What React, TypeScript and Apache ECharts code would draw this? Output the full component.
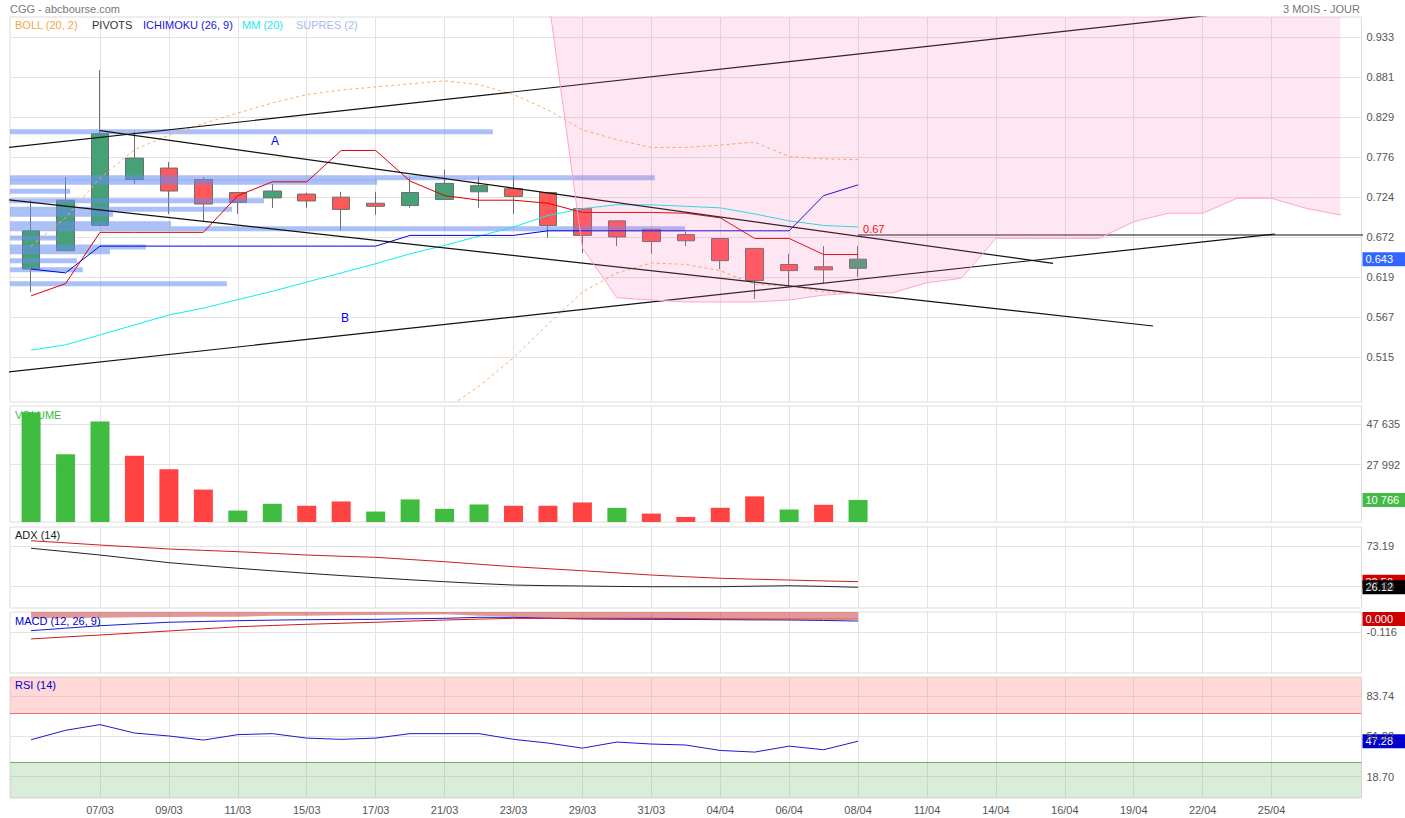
import React, { useEffect, useRef } from "react";
import * as echarts from "echarts";

const FONT = "'Liberation Sans', Arial, sans-serif";
const X_MIN = -0.612;
const X_MAX = 38.61;

const tickIndex = [2, 4, 6, 8, 10, 12, 14, 16, 18, 20, 22, 24, 26, 28, 30, 32, 34, 36];
const tickDates = ["07/03", "09/03", "11/03", "15/03", "17/03", "21/03", "23/03", "29/03", "31/03", "04/04", "06/04", "08/04", "11/04", "14/04", "16/04", "19/04", "22/04", "25/04"];

// Price candles
const opens = [0.630, 0.654, 0.687, 0.747, 0.762, 0.747, 0.730, 0.723, 0.728, 0.724, 0.716, 0.713, 0.721, 0.731, 0.735, 0.730, 0.709, 0.693, 0.682, 0.675, 0.670, 0.657, 0.636, 0.633, 0.631];
const closes = [0.680, 0.720, 0.807, 0.775, 0.732, 0.715, 0.717, 0.732, 0.719, 0.708, 0.712, 0.730, 0.742, 0.739, 0.725, 0.687, 0.674, 0.672, 0.666, 0.667, 0.641, 0.615, 0.628, 0.629, 0.643];
const lows = [0.600, 0.653, 0.686, 0.741, 0.702, 0.692, 0.702, 0.710, 0.710, 0.680, 0.701, 0.710, 0.720, 0.710, 0.702, 0.671, 0.651, 0.660, 0.650, 0.660, 0.630, 0.591, 0.608, 0.611, 0.620];
const highs = [0.720, 0.750, 0.890, 0.810, 0.770, 0.750, 0.731, 0.741, 0.730, 0.731, 0.731, 0.750, 0.760, 0.751, 0.751, 0.731, 0.710, 0.693, 0.683, 0.679, 0.670, 0.657, 0.650, 0.660, 0.660];

// Indicators on price
const bollUpper = [0.660, 0.697, 0.749, 0.786, 0.805, 0.820, 0.834, 0.847, 0.858, 0.864, 0.868, 0.872, 0.876, 0.871, 0.858, 0.838, 0.812, 0.799, 0.789, 0.789, 0.792, 0.796, 0.777, 0.774, 0.773];
const bollLower = [0.388, 0.365, 0.339, 0.328, 0.335, 0.338, 0.345, 0.356, 0.369, 0.386, 0.405, 0.428, 0.446, 0.477, 0.514, 0.558, 0.600, 0.625, 0.638, 0.636, 0.628, 0.610, 0.608, 0.600, 0.597];
const mm20 = [0.524, 0.531, 0.544, 0.557, 0.570, 0.579, 0.590, 0.601, 0.613, 0.625, 0.637, 0.650, 0.661, 0.673, 0.685, 0.700, 0.709, 0.714, 0.714, 0.712, 0.710, 0.702, 0.693, 0.687, 0.685];
const ichiTenkan = [0.595, 0.611, 0.678, 0.678, 0.678, 0.678, 0.726, 0.744, 0.744, 0.785, 0.785, 0.745, 0.726, 0.720, 0.720, 0.716, 0.704, 0.704, 0.704, 0.703, 0.697, 0.670, 0.670, 0.649, 0.649];
const ichiKijun = [0.630, 0.625, 0.660, 0.660, 0.660, 0.660, 0.660, 0.660, 0.660, 0.660, 0.660, 0.674, 0.674, 0.674, 0.674, 0.680, 0.680, 0.680, 0.680, 0.680, 0.680, 0.680, 0.680, 0.726, 0.740];
// Ichimoku cloud: lower boundary (upper boundary lies above the visible range)
const cloudStart = 15;
const cloudLow = [0.988, 0.6575, 0.5926, 0.5896, 0.587, 0.587, 0.587, 0.5896, 0.596, 0.599, 0.599, 0.6122, 0.618, 0.6702, 0.6702, 0.6702, 0.6702, 0.6919, 0.7029, 0.7029, 0.7225, 0.7225, 0.7094, 0.7007];

// Support / resistance bars
const supresLevels = [0.8095, 0.7494, 0.7434, 0.7316, 0.7193, 0.7081, 0.7016, 0.6893, 0.6827, 0.6706, 0.6588, 0.6527, 0.6409, 0.6292, 0.6109];
const supresEnds = [13.4, 18.1, 10.04, 1.13, 6.76, 5.83, 2.38, 4.06, 18.98, 0.75, 3.33, 2.29, 1.33, 1.5, 5.68];

// Trend lines (drawn)
const trendFromX = [-1, 2, -1, -1];
const trendFromY = [0.7872, 0.8109, 0.7222, 0.4939];
const trendToX = [36, 29.66, 32.56, 36.1];
const trendToY = [0.9705, 0.6375, 0.5556, 0.6758];
const pivotLevel = 0.6745;
const pivotFrom = 24;

// Volume
const volumes = [53590, 33150, 49130, 32310, 25730, 15830, 5590, 8910, 7920, 10040, 5100, 11030, 6430, 8560, 7920, 7920, 9550, 6930, 4110, 2470, 6930, 12520, 6090, 8410, 10766];
const volumeUp = [1, 1, 1, 0, 0, 0, 1, 1, 0, 0, 1, 1, 1, 1, 0, 0, 0, 1, 0, 0, 0, 0, 1, 0, 1];

// ADX
const adxRed = [79.2, 76.8, 74.3, 72.0, 69.8, 68.2, 66.7, 64.8, 62.9, 61.5, 60.3, 57.8, 55.3, 52.4, 49.6, 47.3, 45.0, 42.6, 40.1, 38.2, 36.4, 35.3, 34.4, 33.4, 32.5];
const adxBlack = [70.6, 66.8, 62.9, 58.5, 54.2, 50.9, 47.8, 44.9, 42.1, 39.5, 37.1, 34.7, 32.5, 30.4, 28.7, 28.0, 27.6, 27.1, 26.8, 26.8, 26.8, 27.4, 27.9, 27.2, 26.12];

// MACD
const macdLine = [-0.104, -0.082, -0.060, -0.044, -0.029, -0.022, -0.015, -0.010, -0.006, -0.004, -0.003, 0.002, 0.006, 0.015, 0.015, 0.008, 0.000, -0.002, -0.003, -0.004, -0.006, -0.008, -0.009, -0.013, -0.018];
const macdSignal = [-0.178, -0.160, -0.143, -0.125, -0.107, -0.088, -0.069, -0.058, -0.047, -0.038, -0.029, -0.019, -0.009, -0.001, 0.006, 0.006, 0.006, 0.006, 0.006, 0.003, 0.000, 0.000, 0.000, 0.000, 0.000];
const macdHistLow = [0.006, 0.009, 0.012, 0.015, 0.018, 0.020, 0.021, 0.028, 0.030, 0.033, 0.036, 0.039, 0.042, 0.030, 0.021, 0.013, 0.006, 0.004, 0.002, 0.001, 0.000, 0.002, 0.004, 0.005, 0.006];

// RSI
const rsi = [48.5, 56.1, 60.7, 53.9, 51.5, 48.2, 52.6, 53.4, 49.8, 48.8, 49.8, 53.4, 53.4, 53.4, 48.8, 45.8, 41.7, 46.6, 45.0, 44.2, 39.8, 38.5, 43.3, 40.4, 47.28];

// Axis ticks
const mainTicks = [0.5147, 0.5670, 0.6194, 0.6717, 0.7240, 0.7763, 0.8286, 0.8810, 0.9333];
const volTicks = [27992, 47635];
const adxTicks = [27.6, 73.19];
const macdTicks = [-0.116];
const rsiTicks = [18.70, 51.22, 83.74];

const GRID_LEFT = 10;
const GRID_W = 1351.5;
const panels = [
  { top: 17, height: 385, min: 0.4563, max: 0.9594, ticks: mainTicks, fmt: (v: number) => v.toFixed(3) },
  { top: 406, height: 116, min: 0, max: 56670, ticks: volTicks, fmt: (v: number) => String(Math.round(v)).replace(/\B(?=(\d{3})+(?!\d))/g, " ") },
  { top: 527, height: 81, min: 2.53, max: 94.84, ticks: adxTicks, fmt: (v: number) => v.toFixed(2) },
  { top: 612, height: 61, min: -0.4818, max: 0.0625, ticks: macdTicks, fmt: (v: number) => v.toFixed(3) },
  { top: 677, height: 121, min: 1.38, max: 99.19, ticks: rsiTicks, fmt: (v: number) => v.toFixed(2) },
];

const idxPairs = (arr: number[], start = 0) => arr.map((v, i) => [start + i, v]);

export default function App() {
  const ref = useRef<HTMLDivElement>(null);
  useEffect(() => {
    const chart = echarts.init(ref.current!, null, { renderer: "svg" });
    const labelColor = "#555";
    const grid = panels.map((p) => ({
      left: GRID_LEFT, width: GRID_W, top: p.top, height: p.height,
      show: true, borderColor: "#dcdcdc", borderWidth: 1, backgroundColor: "transparent",
    }));
    const xAxis = panels.map((p, i) => ({
      type: "value", gridIndex: i, min: X_MIN, max: X_MAX,
      axisLine: { show: false },
      axisTick: { show: false, customValues: tickIndex },
      splitLine: { show: true, lineStyle: { color: "#e3e3e3", width: 1 } },
      axisLabel: i === 4
        ? { show: true, customValues: tickIndex, color: labelColor, fontSize: 11, fontFamily: FONT, margin: 6,
            formatter: (v: number) => tickDates[tickIndex.indexOf(Math.round(v))] || "" }
        : { show: false },
    }));
    const yAxis = panels.map((p, i) => ({
      type: "value", gridIndex: i, position: "right", min: p.min, max: p.max,
      axisLine: { show: false },
      axisTick: { show: false, customValues: p.ticks },
      splitLine: { show: true, lineStyle: { color: "#e3e3e3", width: 1 } },
      axisLabel: { show: true, customValues: p.ticks, color: labelColor, fontSize: 11, fontFamily: FONT, margin: 5, formatter: p.fmt },
    }));

    const lineS = (name: string, gi: number, data: any[], color: string, extra: any = {}) => ({
      name, type: "line", xAxisIndex: gi, yAxisIndex: gi, data, symbol: "none", silent: true,
      lineStyle: { color, width: 1 }, z: 3, ...extra,
    });

    const series: any[] = [];
    series.push({
      type: "candlestick", xAxisIndex: 0, yAxisIndex: 0, barWidth: 18, z: 2,
      encode: { x: 0, y: [1, 2, 3, 4] },
      data: opens.map((o, i) => [i, o, closes[i], lows[i], highs[i]]),
      itemStyle: { color: "#46a276", color0: "#ff5858", borderColor: "#6e6e6e", borderColor0: "#6e6e6e", borderWidth: 1 },
    });
    series.push({
      type: "custom", xAxisIndex: 0, yAxisIndex: 0, z: 3, silent: true,
      encode: { x: 0, y: 1 },
      data: supresLevels.map((l, i) => [supresEnds[i], l]),
      renderItem: (params: any, api: any) => {
        const end = api.value(0);
        const lvl = api.value(1);
        const a = api.coord([X_MIN, lvl]);
        const b = api.coord([end, lvl]);
        return { type: "rect", shape: { x: a[0], y: a[1] - 2.5, width: b[0] - a[0], height: 5 }, style: { fill: "rgba(100,140,240,0.55)" } };
      },
    });
    series.push(lineS("bollU", 0, idxPairs(bollUpper), "#f8b060", { lineStyle: { color: "#f8b060", width: 1, type: [3, 3] } }));
    series.push(lineS("bollL", 0, idxPairs(bollLower), "#f8b060", { lineStyle: { color: "#f8b060", width: 1, type: [3, 3] } }));
    series.push(lineS("mm20", 0, idxPairs(mm20), "#10ecf0"));
    series.push(lineS("tenkan", 0, idxPairs(ichiTenkan), "#dd0000"));
    series.push(lineS("kijun", 0, idxPairs(ichiKijun), "#0000dd"));
    trendFromX.forEach((fx, i) => {
      series.push(lineS("trend" + i, 0, [[fx, trendFromY[i]], [trendToX[i], trendToY[i]]], "#111", { z: 4, lineStyle: { color: "#111", width: 1.2 } }));
    });
    series.push(lineS("pivot", 0, [[pivotFrom, pivotLevel], [X_MAX + 1, pivotLevel]], "#111", { z: 4, lineStyle: { color: "#111", width: 1.2 } }));
    series.push(lineS("cloud", 0, idxPairs(cloudLow, cloudStart), "#ffa4cc", {
      z: 6, areaStyle: { color: "rgba(250,105,175,0.24)", origin: "end" },
    }));

    // volume
    series.push({
      type: "bar", xAxisIndex: 1, yAxisIndex: 1, barWidth: 19, silent: true,
      data: volumes.map((v, i) => ({ value: [i, v], itemStyle: { color: volumeUp[i] ? "#40bd40" : "#ff4242" } })),
    });

    // ADX
    series.push(lineS("adxR", 2, idxPairs(adxRed), "#cc1f1f"));
    series.push(lineS("adxB", 2, idxPairs(adxBlack), "#222"));

    // MACD
    series.push(lineS("hist", 3, idxPairs(macdHistLow), "#d05050", {
      z: 2, lineStyle: { width: 0, opacity: 0 }, areaStyle: { color: "rgba(195,35,35,0.68)", origin: "end" },
    }));
    series.push(lineS("macd", 3, idxPairs(macdLine), "#1a1acc"));
    series.push(lineS("signal", 3, idxPairs(macdSignal), "#cc1a1a"));

    // RSI
    series.push(lineS("rsi", 4, idxPairs(rsi), "#1a1acc", {
      markArea: {
        silent: true,
        data: [
          [{ yAxis: 70, itemStyle: { color: "rgba(255,150,150,0.37)" } }, { yAxis: panels[4].max }],
          [{ yAxis: panels[4].min, itemStyle: { color: "rgba(120,190,120,0.28)" } }, { yAxis: 30 }],
        ],
      },
      markLine: {
        silent: true, symbol: "none", label: { show: false },
        data: [
          { yAxis: 70, lineStyle: { color: "#f07070", width: 1, type: "solid" } },
          { yAxis: 30, lineStyle: { color: "#6cb26c", width: 1, type: "solid" } },
        ],
      },
    }));

    chart.setOption({
      animation: false,
      backgroundColor: "#ffffff",
      textStyle: { fontFamily: FONT },
      grid, xAxis, yAxis, series,
    });

    const px = (gi: number, x: number, y: number) => chart.convertToPixel({ xAxisIndex: gi, yAxisIndex: gi } as any, [x, y]) as number[];
    const last = opens.length - 1;
    const badge = (gi: number, val: number, text: string, color: string) => {
      const y = px(gi, last, val)[1];
      return {
        type: "group", x: GRID_LEFT + GRID_W + 1, y: y - 7, z: 100,
        children: [
          { type: "rect", shape: { x: 0, y: 0, width: 43, height: 14 }, style: { fill: color } },
          { type: "text", x: 3, y: 7, style: { text, fill: "#fff", fontSize: 11, fontFamily: FONT, verticalAlign: "middle" } },
        ],
      };
    };
    const txt = (x: number, y: number, text: string, fill: string, extra: any = {}) => ({
      type: "text", x, y, z: 100, style: { text, fill, fontSize: 11, fontFamily: FONT, verticalAlign: "middle", ...extra },
    });
    const pivotPt = px(0, pivotFrom, pivotLevel);
    const aPt = px(0, 7.08, 0.7974);
    const bPt = px(0, 9.11, 0.5660);
    const graphic = [
      txt(10, 9, "CGG - abcbourse.com", "#777"),
      txt(1360, 9, "3 MOIS - JOUR", "#777", { align: "right" }),
      txt(15, 25, "BOLL (20, 2)", "#f5a545"),
      txt(92, 25, "PIVOTS", "#333"),
      txt(143, 25, "ICHIMOKU (26, 9)", "#1515e0"),
      txt(242, 25, "MM (20)", "#1ee6f0"),
      txt(296, 25, "SUPRES (2)", "#a9b9f0"),
      txt(pivotPt[0] + 5, pivotPt[1] - 6, "0.67", "#ee1111"),
      txt(aPt[0], aPt[1], "A", "#0000ff", { align: "center", fontSize: 12 }),
      txt(bPt[0], bPt[1], "B", "#0000ff", { align: "center", fontSize: 12 }),
      txt(15, 415, "VOLUME", "#3cba3c"),
      txt(15, 535, "ADX (14)", "#222"),
      txt(15, 621, "MACD (12, 26, 9)", "#0000cc"),
      txt(15, 685, "RSI (14)", "#0000cc"),
      badge(0, closes[last], closes[last].toFixed(3), "#3366ff"),
      badge(1, volumes[last], panels[1].fmt(volumes[last]), "#44bb44"),
      badge(2, adxRed[last], adxRed[last].toFixed(2), "#cc0000"),
      badge(2, adxBlack[last], adxBlack[last].toFixed(2), "#000000"),
      badge(3, macdSignal[last], macdSignal[last].toFixed(3), "#cc0000"),
      badge(4, rsi[last], rsi[last].toFixed(2), "#0000cc"),
    ];
    chart.setOption({ graphic });

    return () => chart.dispose();
  }, []);
  return <div ref={ref} style={{ position: "fixed", left: 0, top: 0, width: 1405, height: 818, background: "#fff" }} />;
}
